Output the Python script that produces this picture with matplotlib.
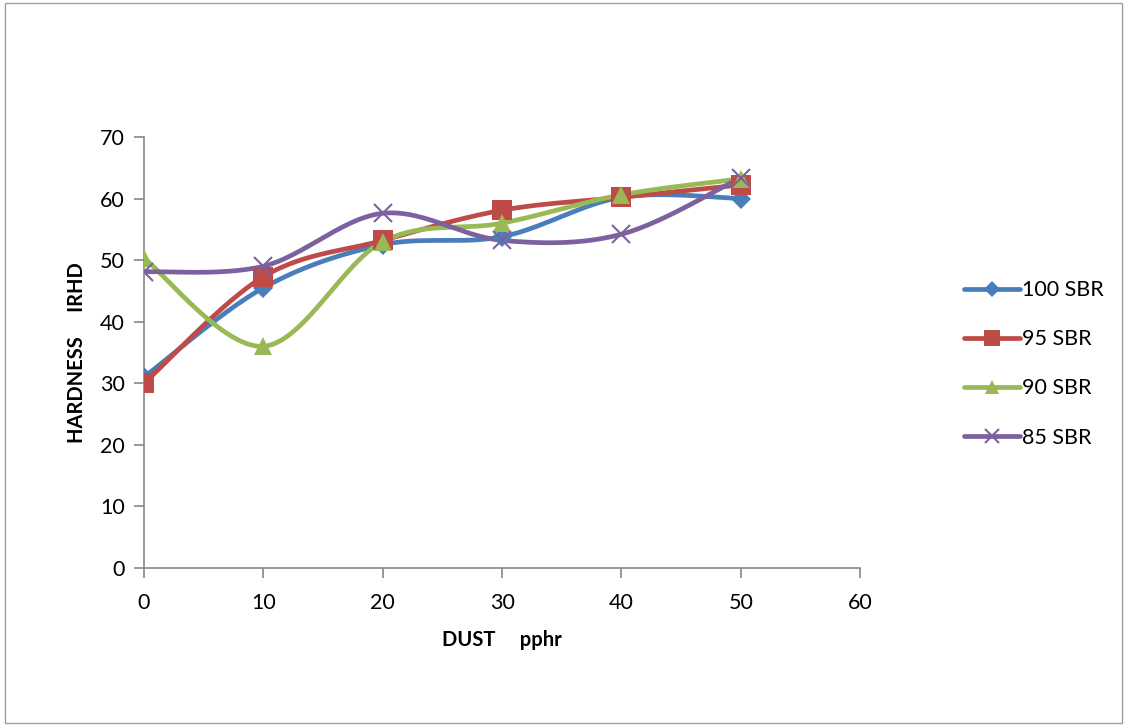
import numpy as np
import matplotlib.pyplot as plt
from matplotlib.patches import Rectangle

plt.rcParams['font.family'] = ['Lato', 'DejaVu Sans']

dust = [0, 10, 20, 30, 40, 50]
sbr_100 = [31, 45.5, 52.5, 53.8, 60.2, 60]
sbr_95 = [30, 47.3, 53.2, 58.1, 60.2, 62.2]
sbr_90 = [50.3, 36, 53, 56, 60.6, 63.2]
sbr_85 = [48.1, 49, 57.6, 53.2, 54.2, 63.4]

labels = ['100 SBR', '95 SBR', '90 SBR', '85 SBR']
colors = ['#4A7EBB', '#BE4B48', '#98B954', '#7D60A0']
markers = ['D', 's', '^', 'x']
msizes = [10, 14, 13, 13]


def smooth(x, y, n=30):
    # excel-like smoothed line: cubic bezier with catmull-rom control points
    x = np.asarray(x, float)
    y = np.asarray(y, float)
    px, py = [], []
    t = np.linspace(0, 1, n)
    for i in range(len(x) - 1):
        i0 = max(i - 1, 0)
        i3 = min(i + 2, len(x) - 1)
        c1x = x[i] + (x[i + 1] - x[i0]) / 6
        c1y = y[i] + (y[i + 1] - y[i0]) / 6
        c2x = x[i + 1] - (x[i3] - x[i]) / 6
        c2y = y[i + 1] - (y[i3] - y[i]) / 6
        bx = (1 - t) ** 3 * x[i] + 3 * (1 - t) ** 2 * t * c1x + 3 * (1 - t) * t ** 2 * c2x + t ** 3 * x[i + 1]
        by = (1 - t) ** 3 * y[i] + 3 * (1 - t) ** 2 * t * c1y + 3 * (1 - t) * t ** 2 * c2y + t ** 3 * y[i + 1]
        px.extend(bx)
        py.extend(by)
    return px, py


fig = plt.figure(figsize=(11.27, 7.25), dpi=100)
ax = fig.add_axes([0.1278, 0.2166, 0.6354, 0.5945])
fig.patches.append(Rectangle((0.004, 0.003), 0.992, 0.993, transform=fig.transFigure,
                             fill=False, edgecolor='#A0A0A0', linewidth=1))

series = [sbr_100, sbr_95, sbr_90, sbr_85]
handles = []
for vals, lab, c, m, ms in zip(series, labels, colors, markers, msizes):
    sx, sy = smooth(dust, vals)
    ax.plot(sx, sy, color=c, linewidth=3.4, solid_capstyle='round', zorder=2)
    mew = 1.5 if m == 'x' else 0
    ax.plot(dust, vals, linestyle='none', marker=m, markersize=ms, color=c,
            markeredgewidth=mew, zorder=3)
    h, = ax.plot([], [], color=c, linewidth=3.4, marker=m, markersize=ms * 0.8,
                 markeredgewidth=mew, solid_capstyle='round', label=lab)
    handles.append(h)

ax.set_xlim(0, 60)
ax.set_ylim(0, 70)
ax.set_xticks(range(0, 61, 10))
ax.set_yticks(range(0, 71, 10))
for s in ['top', 'right']:
    ax.spines[s].set_visible(False)
for s in ['left', 'bottom']:
    ax.spines[s].set_color('#868686')
    ax.spines[s].set_linewidth(1.2)
ax.tick_params(axis='both', colors='#868686', length=7, width=1.2, labelsize=15.5,
               labelcolor='black')
ax.tick_params(axis='x', pad=11)
ax.tick_params(axis='y', pad=7)
ax.spines['left'].set_zorder(1)

ax.set_xlabel('DUST     pphr', fontsize=14.5, fontweight='bold', labelpad=12)
ax.set_ylabel('HARDNESS     IRHD', fontsize=14.5, fontweight='bold', labelpad=9)

fig.legend(handles=handles, loc='upper left', bbox_to_anchor=(0.838, 0.64),
           frameon=False, fontsize=15.5, handlelength=2.6, labelspacing=1.35,
           handletextpad=0.1)

fig.savefig('out.png', dpi=100)
